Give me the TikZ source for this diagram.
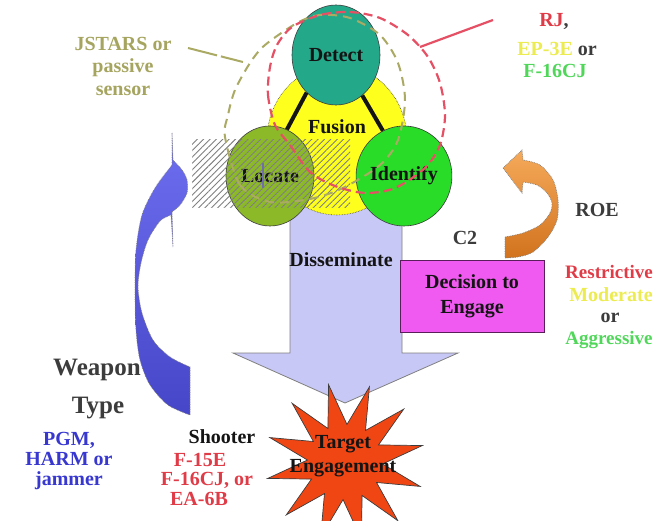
\documentclass[tikz,border=0pt]{standalone}
\usepackage{fontspec}
\setmainfont{Liberation Serif}
\usetikzlibrary{shapes.geometric,patterns.meta}
\definecolor{cDetect}{RGB}{36,168,138}
\definecolor{cLocate}{RGB}{140,185,40}
\definecolor{cIdent}{RGB}{40,220,40}
\definecolor{cFusion}{RGB}{255,255,30}
\definecolor{cDiss}{RGB}{200,200,246}
\definecolor{cBox}{RGB}{240,90,240}
\definecolor{cBoxLine}{RGB}{90,30,90}
\definecolor{cStar}{RGB}{240,70,20}
\definecolor{cBlueT}{RGB}{110,110,240}
\definecolor{cBlueB}{RGB}{70,70,200}
\definecolor{cOrangeT}{RGB}{245,170,90}
\definecolor{cOrangeB}{RGB}{210,115,30}
\definecolor{cKhaki}{RGB}{170,170,100}
\definecolor{cRedL}{RGB}{230,80,100}
\definecolor{tRed}{RGB}{224,60,72}
\definecolor{tYel}{RGB}{236,236,80}
\definecolor{tGreen}{RGB}{80,215,90}
\definecolor{tBlue}{RGB}{56,56,208}
\definecolor{tKhaki}{RGB}{165,165,95}
\definecolor{tDark}{RGB}{20,20,20}
\definecolor{tGray}{RGB}{60,60,60}
\definecolor{cMark}{RGB}{110,110,170}
\begin{document}
\begin{tikzpicture}[x=1pt,y=-1pt,
  lbl/.style={font=\bfseries\fontsize{20}{22}\selectfont, align=center, inner sep=0pt, text=tDark},
  circ/.style={lbl, ellipse, draw=tGray, line width=0.6pt, minimum width=88pt, minimum height=100pt},
  loopred/.style={draw=cRedL, line width=2.2pt, dash pattern=on 9pt off 5pt},
  loopkhaki/.style={draw=cKhaki, line width=2pt, dash pattern=on 9pt off 6pt},
  blockarrow/.style={draw=gray, line width=0.7pt, densely dotted},
]
\useasboundingbox (0,0) rectangle (656,521);
\fill[white] (0,0) rectangle (656,521);

% Disseminate block arrow
\path[fill=cDiss, draw=gray, line width=0.8pt]
  (290,190) -- (290,353) -- (233,353) -- (345,403) -- (458,353) -- (402,353) -- (402,190) -- cycle;

% blue curved arrow (weapon type)
\path[top color=cBlueT, bottom color=cBlueB, blockarrow]
  (172,133) -- (173,160)
  -- plot[smooth] coordinates {(173,160) (182,170) (187,180) (187,193) (180,205) (172,212)}
  -- (173,247) -- (171,215)
  -- plot[smooth] coordinates {(171,215) (160,221) (148,240) (141,263) (138,287) (142,313) (153,340) (170,357) (190,367)}
  -- (190,415)
  -- plot[smooth] coordinates {(190,415) (168,405) (150,385) (140,360) (136,330) (135,290) (136,250) (142,215) (155,188) (172,165)}
  -- cycle;

% fusion circles
\node[ellipse, fill=cFusion, draw=tGray, densely dotted, line width=0.6pt, minimum width=140pt, minimum height=150pt] (fusionc) at (337,140) {};
\node[circ, fill=cDetect] (detect) at (336,55) {Detect};
\node[circ, fill=cLocate] (locate) at (270,176) {Locate};
\node[circ, fill=cIdent] (identify) at (404,176) {Identify};
\node[lbl] (fusion) at (337,127) {Fusion};
\draw[line width=4pt, tDark] (detect.232) -- (locate.70);
\draw[line width=4pt, tDark] (detect.303) -- (identify.115);

% hatched area
\path[pattern={Lines[angle=45,distance=4.5pt,line width=0.9pt]}, pattern color=gray] (192,140) rectangle (350,208);
\draw[cMark, line width=2.5pt] (263,163) -- (263,188);

% sensor coverage loops
\draw[loopkhaki] plot[smooth cycle] coordinates {(225,137) (240,185) (270,202) (310,199) (343,188) (380,165) (398,140) (405,100) (398,63) (380,35) (350,18) (320,15) (297,23) (265,45) (250,63) (235,90) (228,115)};
\draw[loopred] plot[smooth cycle] coordinates {(270,67) (268,95) (275,125) (290,145) (310,172) (335,186) (365,193) (395,188) (425,168) (440,145) (445,115) (440,83) (428,57) (408,35) (380,18) (350,12) (320,15) (292,27) (277,45)};
\coordinate (jl1) at (188,48);
\coordinate (jl2) at (243,62);
\draw[cKhaki, line width=2pt, dash pattern=on 30pt off 4pt] (jl1) -- (jl2);
\coordinate (rl1) at (420,47);
\coordinate (rl2) at (493,20);
\draw[cRedL, line width=2.2pt] (rl1) -- (rl2);

% decision box
\node[lbl, rectangle, fill=cBox, draw=cBoxLine, line width=0.8pt, minimum width=144pt, minimum height=72pt, font=\bfseries\fontsize{20}{25}\selectfont] (decide) at (472,296) {Decision to\\Engage};

% orange ROE arrow
\path[top color=cOrangeT, bottom color=cOrangeB, blockarrow]
  (503,168) -- (522,150) -- (523,160)
  -- plot[smooth] coordinates {(523,160) (540,165) (553,180) (558,200) (557,220) (548,237) (533,252) (518,257) (505,258)}
  -- (505,237)
  -- plot[smooth] coordinates {(505,237) (523,233) (540,225) (550,213) (552,203) (547,193) (537,185) (523,182)}
  -- (522,193) -- cycle;

% target star
\node[star, star points=12, star point ratio=2.1, minimum size=158pt, inner sep=0pt, shape border rotate=-18, fill=cStar, draw=tGray, line width=0.7pt] (star) at (345,462) {};
\node[lbl, font=\bfseries\fontsize{20}{24}\selectfont] (target) at (343,456) {Target\\Engagement};

% labels
\node[lbl, text=tKhaki, font=\bfseries\fontsize{20}{22.5}\selectfont] (jstars) at (123,66) {JSTARS or\\passive\\sensor};
\node[lbl] (rj) at (554,22) {\textcolor{tRed}{RJ}\textcolor{tGray}{,}};
\node[lbl] (ep) at (557,49) {\textcolor{tYel}{EP-3E}\ \textcolor{tGray}{or}};
\node[lbl, text=tGreen] (f16a) at (555,71) {F-16CJ};
\node[lbl] (diss) at (341,260) {Disseminate};
\node[lbl, text=tGray] (c2) at (465,238) {C2};
\node[lbl, text=tGray] (roe) at (597,210) {ROE};
\node[lbl, text=tRed, font=\bfseries\fontsize{19}{21}\selectfont] (restr) at (609,272) {Restrictive};
\node[lbl, text=tYel] (moder) at (611,295) {Moderate};
\node[lbl, text=tGray] (oror) at (610,318) {or};
\node[lbl, text=tGreen, font=\bfseries\fontsize{19}{21}\selectfont] (aggr) at (609,340) {Aggressive};
\node[lbl, text=tGray, font=\bfseries\fontsize{25}{28}\selectfont] (weapon) at (97,370) {Weapon};
\node[lbl, text=tGray, font=\bfseries\fontsize{25}{28}\selectfont] (type) at (98,408) {Type};
\node[lbl, text=tBlue, font=\bfseries\fontsize{20}{20}\selectfont] (pgm) at (69,461) {PGM,\\HARM or\\jammer};
\node[lbl] (shooter) at (222,437) {Shooter};
\node[lbl, text=tRed] (f15) at (200,460) {F-15E};
\node[lbl, text=tRed] (f16b) at (207,480) {F-16CJ, or};
\node[lbl, text=tRed] (ea6b) at (199,499) {EA-6B};
\end{tikzpicture}
\end{document}
